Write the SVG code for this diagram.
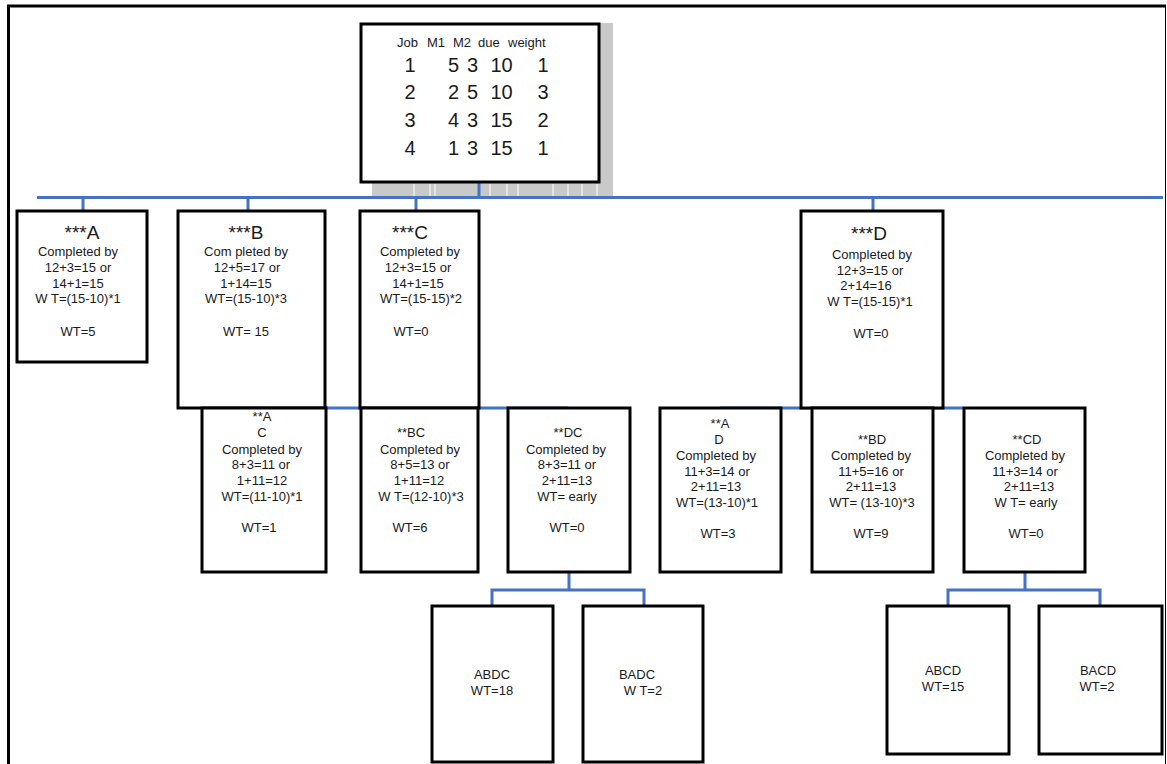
<svg xmlns="http://www.w3.org/2000/svg" width="1167" height="764" viewBox="0 0 1167 764">
<style>
.box{fill:#fff;stroke:#000;stroke-width:3}
.con{fill:none;stroke:#4472C4;stroke-width:3}
text{font-family:"Liberation Sans",Arial,sans-serif;fill:#1a1a1a;text-anchor:middle}
.t{font-size:13px}
.h{font-size:19px}
.big{font-size:20px}
.hd{font-size:13px;text-anchor:start}
</style>
<rect width="1167" height="764" fill="#fff"/>
<path d="M8.5 764 V6 H1166" fill="none" stroke="#000" stroke-width="3"/>
<line x1="1165.5" y1="6" x2="1165.5" y2="764" stroke="#000" stroke-width="1"/>

<g id="shadow">
<rect x="600" y="23" width="13" height="174" fill="#c9c9c9"/>
<rect x="372" y="182" width="241" height="15" fill="#c9c9c9"/>
<g stroke="#fff" stroke-width="1">
<line x1="414" y1="184" x2="414" y2="196"/><line x1="430" y1="184" x2="430" y2="196"/><line x1="435" y1="184" x2="435" y2="196"/>
<line x1="490" y1="184" x2="490" y2="196"/><line x1="507" y1="184" x2="507" y2="196"/><line x1="518" y1="184" x2="518" y2="196"/>
<line x1="553" y1="184" x2="553" y2="196"/><line x1="568" y1="184" x2="568" y2="196"/><line x1="582" y1="184" x2="582" y2="196"/><line x1="597" y1="184" x2="597" y2="196"/>
</g>
</g>

<g id="connectors">
<path class="con" d="M37 197.5 H1163"/>
<path class="con" d="M479 182 V197.5"/>
<path class="con" d="M83 197.5 V211 M248 197.5 V211 M416 197.5 V211 M873 197.5 V211"/>
<path class="con" d="M250 408 H568"/>
<path class="con" d="M720 408 H963"/>
<path class="con" d="M569 572 V590 M492 606 V590 H644 V606"/>
<path class="con" d="M1025 572 V590 M948 606 V590 H1100 V606"/>
</g>

<g id="table">
<rect class="box" x="361" y="24" width="238" height="158"/>
<text class="hd" x="397" y="47">Job</text>
<text class="hd" x="427" y="47">M1</text>
<text class="hd" x="453" y="47">M2</text>
<text class="hd" x="478" y="47">due</text>
<text class="hd" x="508" y="47">weight</text>
<g class="big">
<text x="410" y="72">1</text><text x="453.5" y="72">5</text><text x="472.5" y="72">3</text><text x="501.5" y="72">10</text><text x="543" y="72">1</text>
<text x="410" y="99">2</text><text x="453.5" y="99">2</text><text x="472.5" y="99">5</text><text x="501.5" y="99">10</text><text x="543" y="99">3</text>
<text x="410" y="127">3</text><text x="453.5" y="127">4</text><text x="472.5" y="127">3</text><text x="501.5" y="127">15</text><text x="543" y="127">2</text>
<text x="410" y="155">4</text><text x="453.5" y="155">1</text><text x="472.5" y="155">3</text><text x="501.5" y="155">15</text><text x="543" y="155">1</text>
</g>
</g>

<g id="nodeA">
<rect class="box" x="17" y="211" width="130" height="151"/>
<text class="h" x="82" y="239">***A</text>
<text class="t" x="78" y="256">Completed by</text>
<text class="t" x="78" y="272">12+3=15 or</text>
<text class="t" x="78" y="288">14+1=15</text>
<text class="t" x="78" y="303">W T=(15-10)*1</text>
<text class="t" x="78" y="336">WT=5</text>
</g>

<g id="nodeB">
<rect class="box" x="178" y="211" width="147" height="197"/>
<text class="h" x="246" y="239">***B</text>
<text class="t" x="246" y="256">Com pleted by</text>
<text class="t" x="247" y="272">12+5=17 or</text>
<text class="t" x="246" y="288">1+14=15</text>
<text class="t" x="246" y="303">WT=(15-10)*3</text>
<text class="t" x="246" y="336">WT= 15</text>
</g>

<g id="nodeC">
<rect class="box" x="360" y="211" width="119" height="197"/>
<text class="h" x="410" y="239">***C</text>
<text class="t" x="420" y="256">Completed by</text>
<text class="t" x="418" y="272">12+3=15 or</text>
<text class="t" x="418" y="288">14+1=15</text>
<text class="t" x="421" y="303">WT=(15-15)*2</text>
<text class="t" x="411" y="336">WT=0</text>
</g>

<g id="nodeD">
<rect class="box" x="801" y="211" width="142" height="197"/>
<text class="h" x="869" y="240">***D</text>
<text class="t" x="872" y="259">Completed by</text>
<text class="t" x="870" y="275">12+3=15 or</text>
<text class="t" x="866" y="290">2+14=16</text>
<text class="t" x="870" y="306">W T=(15-15)*1</text>
<text class="t" x="871" y="338">WT=0</text>
</g>

<g id="nodeAC">
<rect class="box" x="202" y="408" width="124" height="164"/>
<text class="t" x="262" y="421">**A</text>
<text class="t" x="262" y="437">C</text>
<text class="t" x="262" y="454">Completed by</text>
<text class="t" x="261" y="469">8+3=11 or</text>
<text class="t" x="262" y="485">1+11=12</text>
<text class="t" x="262" y="501">WT=(11-10)*1</text>
<text class="t" x="259" y="532">WT=1</text>
</g>

<g id="nodeBC">
<rect class="box" x="361" y="408" width="117" height="164"/>
<text class="t" x="411" y="437">**BC</text>
<text class="t" x="420" y="454">Completed by</text>
<text class="t" x="420" y="469">8+5=13 or</text>
<text class="t" x="419" y="485">1+11=12</text>
<text class="t" x="421" y="501">W T=(12-10)*3</text>
<text class="t" x="410" y="532">WT=6</text>
</g>

<g id="nodeDC">
<rect class="box" x="508" y="408" width="122" height="164"/>
<text class="t" x="568" y="437">**DC</text>
<text class="t" x="566" y="454">Completed by</text>
<text class="t" x="567" y="469">8+3=11 or</text>
<text class="t" x="567" y="485">2+11=13</text>
<text class="t" x="567" y="501">WT= early</text>
<text class="t" x="567" y="532">WT=0</text>
</g>

<g id="nodeAD">
<rect class="box" x="660" y="408" width="121" height="164"/>
<text class="t" x="720" y="428">**A</text>
<text class="t" x="719" y="444">D</text>
<text class="t" x="716" y="460">Completed by</text>
<text class="t" x="717" y="476">11+3=14 or</text>
<text class="t" x="716" y="491">2+11=13</text>
<text class="t" x="717" y="507">WT=(13-10)*1</text>
<text class="t" x="718" y="538">WT=3</text>
</g>

<g id="nodeBD">
<rect class="box" x="812" y="408" width="121" height="164"/>
<text class="t" x="872" y="444">**BD</text>
<text class="t" x="871" y="460">Completed by</text>
<text class="t" x="871" y="476">11+5=16 or</text>
<text class="t" x="871" y="491">2+11=13</text>
<text class="t" x="872" y="507">WT= (13-10)*3</text>
<text class="t" x="871" y="538">WT=9</text>
</g>

<g id="nodeCD">
<rect class="box" x="964" y="408" width="121" height="164"/>
<text class="t" x="1027" y="444">**CD</text>
<text class="t" x="1025" y="460">Completed by</text>
<text class="t" x="1025" y="476">11+3=14 or</text>
<text class="t" x="1029" y="491">2+11=13</text>
<text class="t" x="1026" y="507">W T= early</text>
<text class="t" x="1026" y="538">WT=0</text>
</g>

<g id="nodeABDC">
<rect class="box" x="432" y="606" width="121" height="156"/>
<text class="t" x="492" y="679">ABDC</text>
<text class="t" x="492" y="695">WT=18</text>
</g>

<g id="nodeBADC">
<rect class="box" x="583" y="606" width="120" height="156"/>
<text class="t" x="637" y="679">BADC</text>
<text class="t" x="643" y="695">W T=2</text>
</g>

<g id="nodeABCD">
<rect class="box" x="887" y="606" width="122" height="148"/>
<text class="t" x="943" y="675">ABCD</text>
<text class="t" x="943" y="691">WT=15</text>
</g>

<g id="nodeBACD">
<rect class="box" x="1039" y="606" width="123" height="148"/>
<text class="t" x="1098" y="675">BACD</text>
<text class="t" x="1097" y="691">WT=2</text>
</g>
</svg>
